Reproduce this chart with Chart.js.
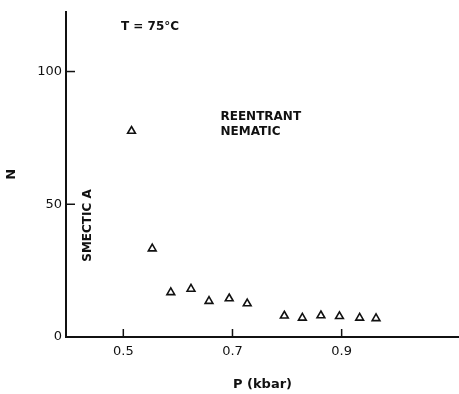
<!DOCTYPE html>
<html>
<head>
<meta charset="utf-8">
<script src="https://cdn.jsdelivr.net/npm/chart.js@4.4.0/dist/chart.umd.min.js"></script>
<style>
  html, body { margin: 0; padding: 0; background: #fff; }
  #wrap { width: 459px; height: 394px; }
</style>
</head>
<body>
<div id="wrap"><canvas id="canvas1"></canvas></div>
<script>
// pressure (kbar) and N
const pressure = [0.515, 0.553, 0.587, 0.624, 0.657, 0.694, 0.727, 0.795, 0.828, 0.862, 0.896, 0.933, 0.963];
const nValues  = [77.6, 33.3, 16.8, 18.1, 13.5, 14.5, 12.6, 8.0, 7.2, 8.1, 7.8, 7.2, 7.0];
const xTicks = [0.5, 0.7, 0.9];
const yTicks = [0, 50, 100];

const ink = '#111';
const fontFamily = '"DejaVu Sans", "Liberation Sans", sans-serif';

// small tick marks pointing into the plot, plus the text notes
const insideTicks = {
    id: 'insideTicks',
    afterDraw(chart) {
        const ctx = chart.ctx;
        const x = chart.scales.x, y = chart.scales.y;
        const area = chart.chartArea;
        ctx.save();
        ctx.strokeStyle = ink;
        ctx.lineWidth = 1.5;
        yTicks.forEach(v => {
            const py = y.getPixelForValue(v);
            ctx.beginPath();
            ctx.moveTo(area.left, py);
            ctx.lineTo(area.left + 9, py);
            ctx.stroke();
        });
        xTicks.forEach(v => {
            const px = x.getPixelForValue(v);
            ctx.beginPath();
            ctx.moveTo(px, area.bottom);
            ctx.lineTo(px, area.bottom - 8);
            ctx.stroke();
        });

        ctx.fillStyle = ink;
        ctx.textBaseline = 'middle';
        ctx.font = 'bold 12px ' + fontFamily;
        ctx.textAlign = 'center';
        ctx.fillText('T = 75°C', x.getPixelForValue(0.549), y.getPixelForValue(117));
        ctx.textAlign = 'left';
        ctx.fillText('REENTRANT', x.getPixelForValue(0.678), y.getPixelForValue(82.8));
        ctx.fillText('NEMATIC', x.getPixelForValue(0.678), y.getPixelForValue(77.2));
        ctx.save();
        ctx.translate(x.getPixelForValue(0.435), y.getPixelForValue(42));
        ctx.rotate(-Math.PI / 2);
        ctx.textAlign = 'center';
        ctx.fillText('SMECTIC A', 0, 0);
        ctx.restore();
        ctx.restore();
    }
};

function PressureChart() {
    const data = {
        datasets: [{
            label: 'N',
            data: pressure.map((p, i) => ({ x: p, y: nValues[i] })),
            pointStyle: 'triangle',
            pointRadius: 4.5,
            pointBorderWidth: 1.6,
            borderColor: ink,
            backgroundColor: '#fff',
            showLine: false
        }]
    };
    const config = {
        type: 'scatter',
        data: data,
        options: {
            responsive: true,
            maintainAspectRatio: false,
            animation: false,
            layout: { autoPadding: false, padding: { top: 10, right: 0, left: 0, bottom: 0 } },
            plugins: {
                legend: { display: false },
                tooltip: { enabled: false }
            },
            scales: {
                x: {
                    type: 'linear',
                    min: 0.395,
                    max: 1.115,
                    afterBuildTicks: axis => { axis.ticks = xTicks.map(v => ({ value: v })); },
                    afterFit: axis => { axis.height = 57; },
                    grid: { display: false, drawTicks: false },
                    border: { display: true, color: ink, width: 2 },
                    ticks: {
                        color: ink,
                        padding: 7,
                        font: { family: fontFamily, size: 13 },
                        callback: v => v.toFixed(1)
                    },
                    title: {
                        display: true,
                        text: 'P (kbar)',
                        color: ink,
                        padding: { top: 0, bottom: 2 },
                        font: { family: fontFamily, size: 13, weight: 'bold' }
                    }
                },
                y: {
                    min: 0,
                    max: 122.5,
                    afterBuildTicks: axis => { axis.ticks = yTicks.map(v => ({ value: v })); },
                    afterFit: axis => { axis.width = 66; },
                    grid: { display: false, drawTicks: false },
                    border: { display: true, color: ink, width: 2 },
                    ticks: {
                        color: ink,
                        padding: 4,
                        font: { family: fontFamily, size: 13 }
                    },
                    title: {
                        display: true,
                        text: 'N',
                        color: ink,
                        padding: { top: 4, bottom: 0 },
                        font: { family: fontFamily, size: 13, weight: 'bold' }
                    }
                }
            }
        },
        plugins: [insideTicks]
    };
    const canvas = document.getElementById('canvas1');
    return new Chart(canvas, config);
}
PressureChart();
</script>
</body>
</html>
